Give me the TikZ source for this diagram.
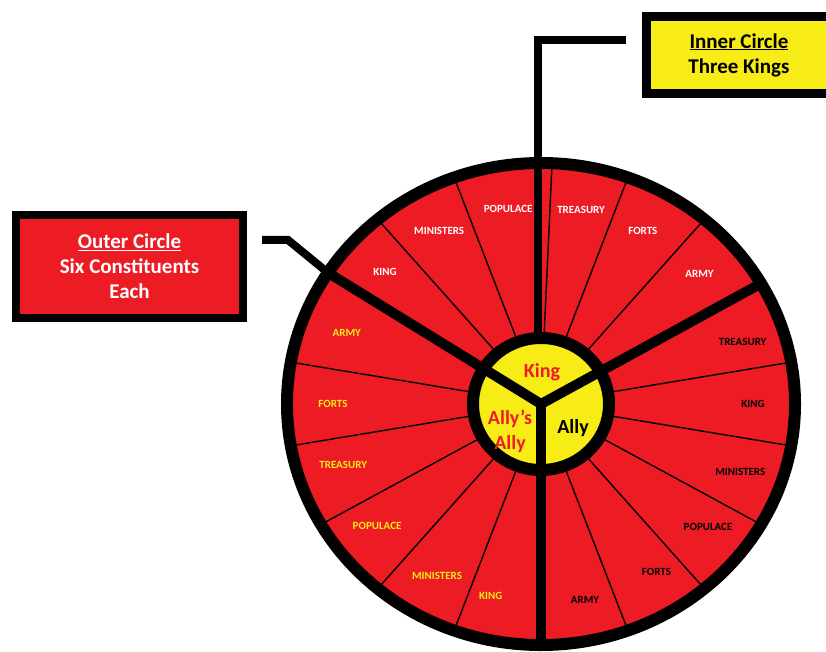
\documentclass[tikz,border=0pt]{standalone}
\usepackage{fontspec}
\setmainfont{Carlito}
\usetikzlibrary{calc}

\definecolor{wheelred}{RGB}{237,28,36}
\definecolor{wheelyellow}{RGB}{247,236,22}

\begin{document}
\begin{tikzpicture}[
  x=1pt, y=1pt,
  ringline/.style={draw=black, line width=12pt},
  spoke/.style={draw=black, line width=10pt},
  divider/.style={draw=black, line width=1.4pt},
  callout/.style={draw=black, line width=8pt, miter limit=10},
  seglabel/.style={font=\fontsize{11}{12}\selectfont\bfseries, inner sep=0pt},
  kinglabel/.style={font=\fontsize{20}{25}\selectfont\bfseries, align=center, inner sep=0pt},
  outerbox/.style={draw=black, line width=8pt, fill=wheelred, text=white, minimum width=227pt, minimum height=103pt, align=center, font=\fontsize{21}{25}\selectfont\bfseries},
  innerbox/.style={draw=black, line width=9pt, fill=wheelyellow, text=black, minimum width=185pt, minimum height=77pt, align=center, font=\fontsize{21}{25}\selectfont\bfseries}
]
  \clip (0,0) rectangle (826,651);
  \coordinate (c) at (541,247);

  % wheel
  \fill[wheelred] (c) ellipse [x radius=254, y radius=241];
  \fill[wheelyellow] (c) ellipse [x radius=68, y radius=66];
  \foreach \ang in {10,50,70,87.5,110,130,170,190,210,230,250,290,310,330,350}
    \draw[divider] ($(c)+(\ang:68 and 66)$) -- ($(c)+(\ang:254 and 241)$);
  \foreach \ang in {30,147,270}
    \draw[spoke] (c) -- ($(c)+(\ang:254 and 241)$);
  \draw[ringline] (c) ellipse [x radius=254, y radius=241];
  \draw[ringline] (c) ellipse [x radius=68, y radius=66];

  % constituents
  \foreach \ang/\txt [count=\i] in {138/KING,119/MINISTERS,99/POPULACE,79/TREASURY,61/FORTS,41/ARMY}
    \node[seglabel, text=white] (top\i) at ($(c)+(\ang:210 and 198)$) {\txt};
  \foreach \ang/\txt [count=\i] in {18/TREASURY,0/KING,-20/MINISTERS,-38/POPULACE,-57/FORTS,-78/ARMY}
    \node[seglabel, text=black] (rgt\i) at ($(c)+(\ang:212 and 200)$) {\txt};
  \foreach \ang/\txt [count=\i] in {159/ARMY,180/FORTS,198/TREASURY,218/POPULACE,240/MINISTERS,256/KING}
    \node[seglabel, text=wheelyellow] (lft\i) at ($(c)+(\ang:208 and 198)$) {\txt};

  % three kings
  \node[kinglabel, text=wheelred] (king) at (542,279) {King};
  \node[kinglabel, text=wheelred] (allysally) at (510,220) {Ally’s\\Ally};
  \node[kinglabel, text=black] (ally) at (573,223) {Ally};

  % callouts
  \node[innerbox] (innerbx) at (739,596) {\underline{Inner Circle}\\Three Kings};
  \node[outerbox] (outerbx) at (129.5,384.5) {\underline{Outer Circle}\\Six Constituents\\Each};
  \coordinate (ic-bend) at (538,611);
  \coordinate (ic-end) at (538,316);
  \coordinate (oc-bend) at (288,411);
  \coordinate (oc-end) at ($(c)+(147:254 and 241)$);
  \draw[callout, shorten <=16pt] (innerbx.west |- ic-bend) -- (ic-bend) -- (ic-end);
  \draw[callout, shorten <=15pt] (outerbx.east |- oc-bend) -- (oc-bend) -- (oc-end);
\end{tikzpicture}
\end{document}
